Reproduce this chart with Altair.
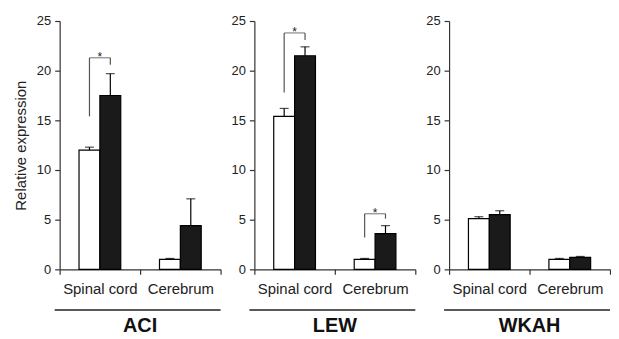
import altair as alt
import pandas as pd

strains = ["ACI", "LEW", "WKAH"]
tissues = ["Spinal cord", "Cerebrum"]
groups = ["Control", "Treated"]

control_mean = {"ACI": [12.0, 1.0], "LEW": [15.4, 1.0], "WKAH": [5.1, 1.0]}
control_err = {"ACI": [0.3, 0.1], "LEW": [0.8, 0.1], "WKAH": [0.2, 0.1]}
treated_mean = {"ACI": [17.5, 4.4], "LEW": [21.5, 3.6], "WKAH": [5.5, 1.2]}
treated_err = {"ACI": [2.2, 2.7], "LEW": [0.9, 0.8], "WKAH": [0.4, 0.1]}

# significance brackets: strain, tissue, left leg start, bracket top, right leg start
sig_strain = ["ACI", "LEW", "LEW"]
sig_tissue = ["Spinal cord", "Spinal cord", "Cerebrum"]
sig_left = [15.4, 17.8, 3.2]
sig_top = [21.3, 23.8, 5.6]
sig_right = [20.6, 23.1, 5.1]

rows = []
for s in strains:
    for i, t in enumerate(tissues):
        rows.append({"strain": s, "tissue": t, "group": groups[0],
                     "mean": control_mean[s][i], "hi": control_mean[s][i] + control_err[s][i]})
        rows.append({"strain": s, "tissue": t, "group": groups[1],
                     "mean": treated_mean[s][i], "hi": treated_mean[s][i] + treated_err[s][i]})
bars_df = pd.DataFrame(rows)

legs = []
tops = []
for s, t, l, top, r in zip(sig_strain, sig_tissue, sig_left, sig_top, sig_right):
    legs.append({"strain": s, "tissue": t, "group": groups[0], "y": l, "y2": top})
    legs.append({"strain": s, "tissue": t, "group": groups[1], "y": r, "y2": top})
    tops.append({"strain": s, "tissue": t, "top": top, "star": "*"})
legs_df = pd.DataFrame(legs)
tops_df = pd.DataFrame(tops)

W, H = 162, 250
SUB = 21
pad_outer = ((W / 2) / SUB - 2) / 2
FONT = "Liberation Sans"
LINE = "#555555"


def panel(strain, first):
    xs = alt.X("tissue:N", sort=tissues,
               scale=alt.Scale(domain=tissues, paddingInner=0, paddingOuter=0),
               axis=alt.Axis(title=None, labelAngle=0, tickBand="extent", tickSize=5,
                             labelPadding=7, labelFontSize=15, labelColor="#222",
                             domainColor="#333", tickColor="#333", domainWidth=1.2,
                             tickWidth=1.2, labelFont=FONT))
    xo = alt.XOffset("group:N", sort=groups,
                     scale=alt.Scale(domain=groups, paddingInner=0, paddingOuter=pad_outer))
    yaxis = alt.Axis(values=[0, 5, 10, 15, 20, 25], grid=False, tickSize=5, labelPadding=4,
                     labelFontSize=13, labelColor="#222", domainColor="#333", tickColor="#333",
                     domainWidth=1.2, tickWidth=1.2, labelFont=FONT,
                     title="Relative expression" if first else None,
                     titleFontSize=15, titleFontWeight="normal", titleColor="#222",
                     titleFont=FONT, titlePadding=8)
    ysc = alt.Scale(domain=[0, 25], nice=False)

    bdata = bars_df[bars_df.strain == strain]
    base = alt.Chart(bdata)
    bars = base.mark_bar(stroke="black", strokeWidth=1.2).encode(
        x=xs, xOffset=xo,
        y=alt.Y("mean:Q", scale=ysc, axis=yaxis),
        fill=alt.Fill("group:N", scale=alt.Scale(domain=groups, range=["white", "#1a1a1a"]),
                      legend=None),
    )
    err = base.mark_rule(color="black", strokeWidth=1.2).encode(
        x=xs, xOffset=xo, y=alt.Y("mean:Q", scale=ysc), y2="hi:Q")
    cap = base.mark_tick(color="black", thickness=1.2, size=9).encode(
        x=xs, xOffset=xo, y=alt.Y("hi:Q", scale=ysc))
    layers = [bars, err, cap]

    ldata = legs_df[legs_df.strain == strain]
    if len(ldata):
        tdata = tops_df[tops_df.strain == strain]
        leg = alt.Chart(ldata).mark_rule(color=LINE, strokeWidth=1.2).encode(
            x=xs, xOffset=xo, y=alt.Y("y:Q", scale=ysc), y2="y2:Q")
        top = alt.Chart(tdata).mark_tick(color=LINE, thickness=1.2, size=SUB).encode(
            x=xs, y=alt.Y("top:Q", scale=ysc))
        star = alt.Chart(tdata).mark_text(fontSize=12, font=FONT, baseline="alphabetic",
                                          dy=3, color="#222").encode(
            x=xs, y=alt.Y("top:Q", scale=ysc), text="star:N")
        layers += [leg, top, star]

    underline = alt.Chart(pd.DataFrame({"k": [0]})).mark_rule(
        color="#222", strokeWidth=1.5).encode(
        x=alt.value(-5), x2=alt.value(W), y=alt.value(291))
    layers.append(underline)

    return alt.layer(*layers).properties(
        width=W, height=H,
        title=alt.TitleParams(strain, orient="bottom", anchor="middle", frame="group",
                              fontSize=20, fontWeight="bold", font=FONT, color="#111",
                              offset=5),
    )


chart = alt.hconcat(*[panel(s, i == 0) for i, s in enumerate(strains)], spacing=9).properties(
    padding={"left": 5, "top": 6, "right": 0, "bottom": 0}
).configure_view(stroke=None)

chart.save("out.html", embed_options={"renderer": "svg", "actions": False})
